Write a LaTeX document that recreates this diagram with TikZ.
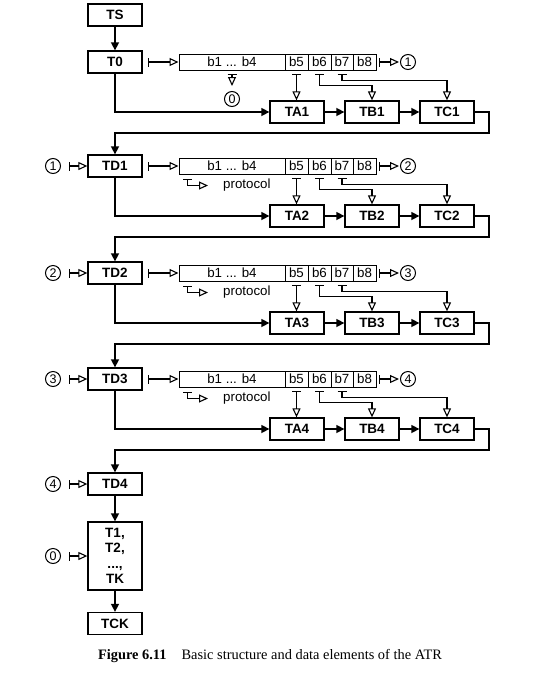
\documentclass[tikz,border=0pt]{standalone}
\usepackage{fontspec}
\setmainfont{Liberation Sans}
\newfontfamily\capfont{Liberation Serif}
\usetikzlibrary{arrows.meta,calc}
\begin{document}
\begin{tikzpicture}[x=1pt,y=-1pt,
  box/.style={draw, line width=1.3pt, minimum width=54pt, minimum height=22pt, inner sep=0pt, font=\fontsize{13.5}{15.5}\selectfont\bfseries},
  cell/.style={draw, line width=1pt, minimum height=16pt, inner sep=0pt, font=\fontsize{13.3}{14}\selectfont},
  circ/.style={draw, circle, line width=1pt, minimum size=15pt, inner sep=0pt, font=\fontsize{12.5}{13}\selectfont},
  flow/.style={line width=1.5pt, -{Triangle[length=8pt,width=8pt]}},
  teearr/.style={line width=1.4pt, {Bar[width=9pt]}-{Triangle[open,length=9pt,width=8pt,line width=1.1pt]}},
  thinarr/.style={line width=1.1pt, {Bar[width=9pt]}-{Triangle[open,length=9pt,width=8pt]}},
  lbl/.style={font=\fontsize{13.3}{14}\selectfont, inner sep=2pt},
  ]
\useasboundingbox (0,0) rectangle (547,673);

% main column
\node[box] (TS) at (115,15) {TS};
\node[box] (T0) at (115,62) {T0};
\node[box] (TD1) at (115,166) {TD1};
\node[box] (TD2) at (115,273) {TD2};
\node[box] (TD3) at (115,379) {TD3};
\node[box] (TD4) at (115,484) {TD4};
\node[box, minimum height=68pt, align=center] (TL) at (115,556) {T1,\\T2,\\...,\\TK};
\node[box] (TCK) at (115,623.5) {TCK};

\draw[flow] (TS) -- (T0);
\draw[flow] (TD4) -- (TL);
\draw[flow] (TL) -- (TCK);

% rows
\foreach \i/\m/\y/\n in {1/T0/62/TD1, 2/TD1/166/TD2, 3/TD2/273/TD3, 4/TD3/379/TD4} {
  \node[cell, minimum width=106pt] (b14-\i) at (232,\y) {b1 ... b4};
  \node[cell, minimum width=23pt] (b5-\i) at (296.5,\y) {b5};
  \node[cell, minimum width=23pt] (b6-\i) at (319.5,\y) {b6};
  \node[cell, minimum width=22pt] (b7-\i) at (342,\y) {b7};
  \node[cell, minimum width=23pt] (b8-\i) at (364.5,\y) {b8};
  \node[box] (TA\i) at (297,\y+50) {TA\i};
  \node[box] (TB\i) at (372,\y+50) {TB\i};
  \node[box] (TC\i) at (447,\y+50) {TC\i};
  \node[circ] (cR\i) at (408,\y) {\i};
  \coordinate (ret\i) at (489,\y+71);
  \draw[teearr] ([xshift=5pt]\m.east) -- (b14-\i.west);
  \draw[teearr] ([xshift=2pt]b8-\i.east) -- ([xshift=-1pt]cR\i.west);
  \draw[flow] (\m.south) |- (TA\i.west);
  \draw[flow] (TA\i) -- (TB\i);
  \draw[flow] (TB\i) -- (TC\i);
  \draw[thinarr] ([yshift=-3pt]b5-\i.south) -- (b5-\i.south |- TA\i.north);
  \draw[thinarr] ([yshift=-3pt]b6-\i.south) -- ([yshift=-15pt]b6-\i.south) -| (TB\i.north);
  \draw[thinarr] ([yshift=-3pt]b7-\i.south) -- ([yshift=-10pt]b7-\i.south) -| (TC\i.north);
  \draw[flow] (TC\i.east) -| (ret\i) -| (\n.north);
}

% row 1: b1..b4 to circle 0
\node[circ] (c0a) at (232,99) {0};
\draw[thinarr, shorten >=5pt] ([yshift=-3pt]b14-1.south) -- (c0a.north);

% rows 2-4: left circles and protocol
\foreach \i/\m/\y/\p in {2/TD1/166/1, 3/TD2/273/2, 4/TD3/379/3} {
  \node[circ] (cL\i) at (53,\y) {\p};
  \draw[teearr] ([xshift=8pt]cL\i.east) -- (\m.west);
  \node[lbl, anchor=west] (pr\i) at (221,\y+19.5) {protocol};
  \draw[thinarr] ([xshift=9pt,yshift=-4pt]b14-\i.south west) |- ([xshift=-13pt]pr\i.west);
}

% TD4 and T-list inputs
\node[circ] (c4L) at (53,484) {4};
\draw[teearr] ([xshift=8pt]c4L.east) -- (TD4.west);
\node[circ] (c0L) at (53,556) {0};
\draw[teearr] ([xshift=8pt]c0L.east) -- (TL.west);

% caption
\node[font=\capfont\fontsize{14.4}{16}\selectfont, inner sep=0pt] (cap) at (270,656) {\textbf{Figure 6.11}\hspace{15pt}Basic structure and data elements of the ATR};
\end{tikzpicture}
\end{document}
